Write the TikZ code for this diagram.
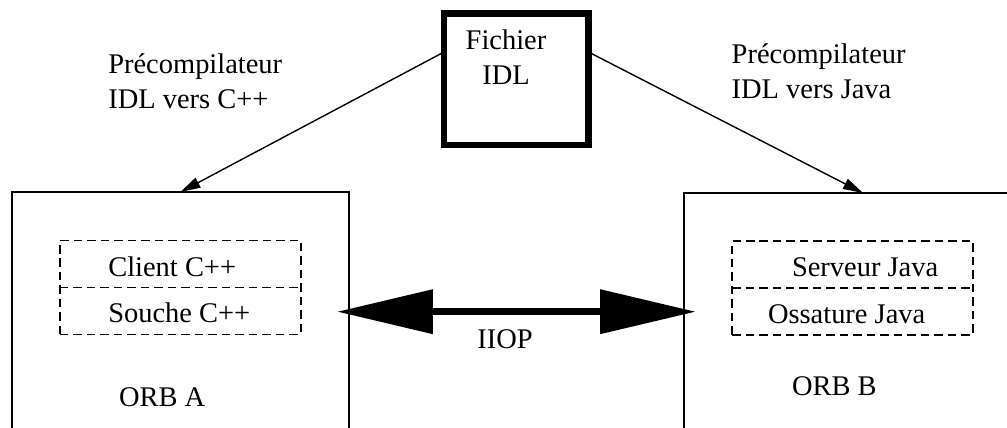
\documentclass[tikz,border=0pt]{standalone}
\usepackage{fontspec}
\setmainfont{Liberation Serif}
\usetikzlibrary{arrows.meta,calc}
\begin{document}
\begin{tikzpicture}[x=0.02cm,y=-0.02cm,
  every node/.style={font=\fontsize{16.2}{19.9}\selectfont, inner sep=0pt, outer sep=0pt},
  orb/.style={draw, line width=0.95pt, minimum height=6cm},
  idlbox/.style={draw, line width=0.126cm, minimum width=2.89cm, minimum height=2.63cm},
  stack/.style={draw, line width=1pt, dash pattern=on 0.17cm off 0.1cm,
                minimum width=4.82cm, minimum height=1.88cm},
  divider/.style={line width=1pt, dash pattern=on 0.17cm off 0.1cm},
  feed/.style={line width=0.8pt, -{Triangle[length=0.4cm,width=0.22cm]}},
  iiop/.style={line width=0.14cm,
               {Triangle[length=1.9cm,width=0.9cm,line width=0pt]}-{Triangle[length=1.9cm,width=0.9cm,line width=0pt]}}
]
\useasboundingbox (0,0) rectangle (1007,428);
\clip (0,0) rectangle (1007,428);

% the two ORBs, open towards the bottom of the page
\node[orb, minimum width=6.74cm, anchor=north] (orbA) at (180.5,192) {};
\node[orb, minimum width=7.16cm, anchor=north] (orbB) at (863,193) {};

% IDL source file
\node[idlbox, anchor=north west] (idl) at (444,13.5) {};
\node[anchor=base] (idlTxt) at (506,50)
  {\begin{tabular}[t]{@{}c@{}}Fichier\\IDL\end{tabular}};

% precompiler labels
\node[anchor=base west] (preCpp) at (108.3,74)
  {\begin{tabular}[t]{@{}l@{}}Précompilateur\\IDL vers C++\end{tabular}};
\node[anchor=base west] (preJava) at (731.7,63.3)
  {\begin{tabular}[t]{@{}l@{}}Précompilateur\\IDL vers Java\end{tabular}};

% generated code stacks
\node[stack, anchor=north west] (cppStack) at (60,240.5) {};
\draw[divider] (cppStack.west) -- (cppStack.east);
\node[stack, anchor=north west] (javaStack) at (732,241) {};
\draw[divider] (javaStack.west) -- (javaStack.east);

\node[anchor=base west] (clientTxt) at (108.3,276.7) {Client C++};
\node[anchor=base west] (soucheTxt) at (108.3,323) {Souche C++};
\node[anchor=base west] (serveurTxt) at (792,277) {Serveur Java};
\node[anchor=base west] (ossatureTxt) at (768,324) {Ossature Java};

\node[anchor=base west] (orbAtxt) at (119,407) {ORB A};
\node[anchor=base west] (orbBtxt) at (792,396) {ORB B};

% precompilation arrows
\draw[feed] ($(idl.north west)!0.293!(idl.south west)$) -- (orbA.north);
\draw[feed] ($(idl.north east)!0.293!(idl.south east)$) -- (orbB.north);

% IIOP link between the ORBs
\coordinate (iiopY) at (0,311.7);
\draw[iiop] ($(orbA.north east |- iiopY)+(-11,0)$) -- ($(orbB.north west |- iiopY)+(11,0)$);
\node[anchor=base] (iiopTxt) at (505,348.3) {IIOP};
\end{tikzpicture}
\end{document}
